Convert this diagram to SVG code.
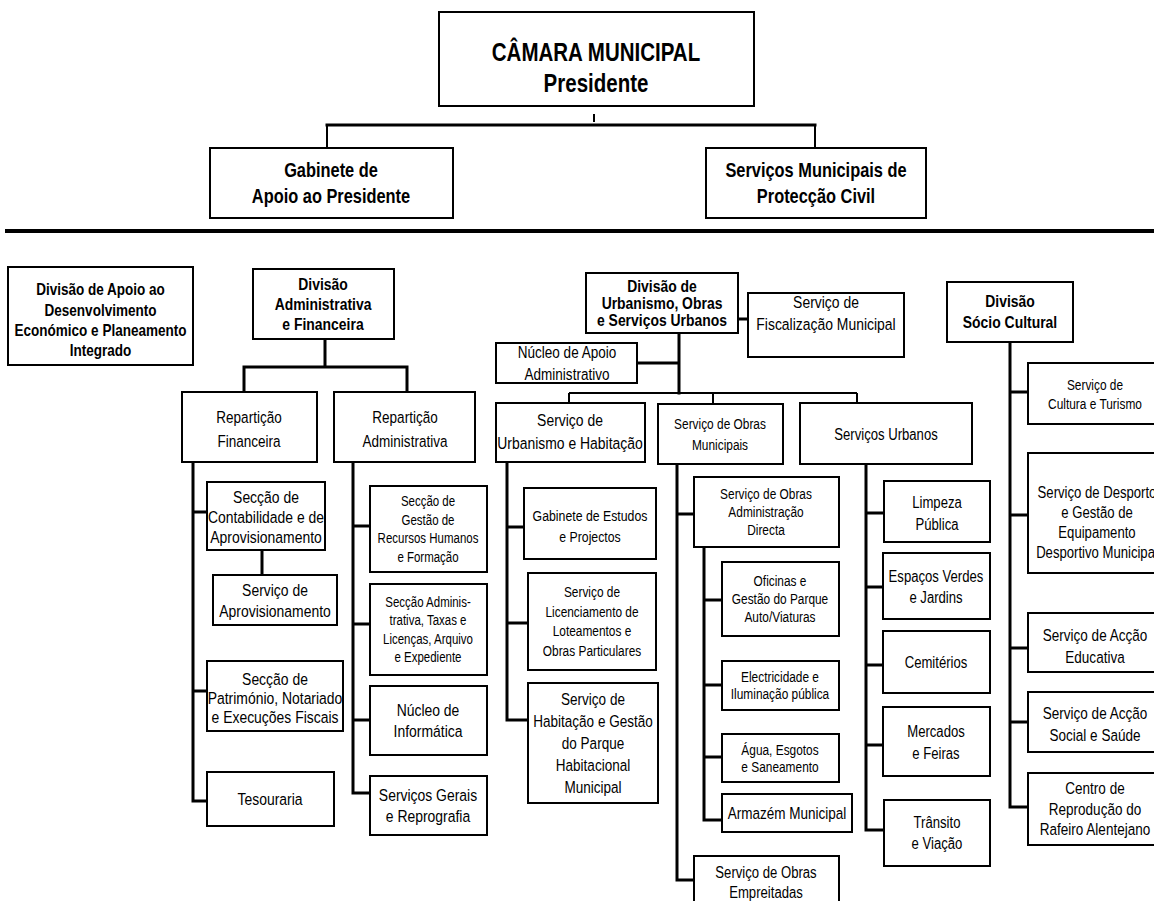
<svg xmlns="http://www.w3.org/2000/svg" width="1154" height="901" viewBox="0 0 1154 901">
<style>
.b{fill:#fff;stroke:#000;stroke-width:2}
.c{stroke:#000;stroke-width:3;fill:none;stroke-linecap:square}
.c2{stroke:#000;stroke-width:2;fill:none}
text{font-family:"Liberation Sans",Arial,sans-serif;text-anchor:middle;fill:#000}
.h{font-weight:bold}
.f14{font-size:14px}.f145{font-size:14.5px}.f15{font-size:15px}.f16{font-size:16px}.f165{font-size:16.5px}.f17{font-size:17px}.f20{font-size:20px}.f25{font-size:25px}
</style>
<rect width="1154" height="901" fill="#fff"/>
<g id="connectors">
<path class="c2" d="M594 114V122"/>
<path class="c" d="M327 125H815"/>
<path class="c2" d="M327 125V148M815 125V148"/>
<path d="M5 231H1154" stroke="#000" stroke-width="4"/>
<path class="c" d="M325 339V367M244 367H407M244 367V392M407 367V392"/>
<path class="c" d="M193 462V801H207M193 512H207M193 691H207"/>
<path class="c" d="M262 550V575"/>
<path class="c" d="M353 462V793H370M353 526H370M353 624H370M353 720H370"/>
<path class="c" d="M738 319H748M679 333V393M637 363H679"/>
<path class="c2" d="M569 393H857M569 393V403M713 393V404M857 393V403"/>
<path class="c" d="M507 462V720H528M507 527H524M507 623H528"/>
<path class="c" d="M677 464V880H694M677 514H694"/>
<path class="c" d="M704 547V820H722M704 600H722M704 685H722M704 757H722"/>
<path class="c" d="M866 464V830H884M866 513H884M866 587H883M866 665H883M866 745H883"/>
<path class="c" d="M1010 342V807H1028M1010 392H1028M1010 515H1028M1010 648H1028M1010 722H1028"/>
</g>
<g id="camara"><rect class="b" x="439" y="12" width="315" height="94"/><text class="h f25" transform="matrix(.82 0 0 1 596 0)"><tspan x="0" y="61">CÂMARA MUNICIPAL</tspan><tspan x="0" y="92">Presidente</tspan></text></g>
<g id="gabinete"><rect class="b" x="210" y="148" width="243" height="70"/><text class="h f20" transform="matrix(.82 0 0 1 331 0)"><tspan x="0" y="177">Gabinete de</tspan><tspan x="0" y="203">Apoio ao Presidente</tspan></text></g>
<g id="proteccao"><rect class="b" x="706" y="148" width="220" height="70"/><text class="h f20" transform="matrix(.82 0 0 1 816 0)"><tspan x="0" y="177">Serviços Municipais de</tspan><tspan x="0" y="203">Protecção Civil</tspan></text></g>
<g id="div-apoio"><rect class="b" x="8" y="267" width="185" height="98"/><text class="h f165" transform="matrix(.82 0 0 1 100.5 0)"><tspan x="0" y="295">Divisão de Apoio ao</tspan><tspan x="0" y="316">Desenvolvimento</tspan><tspan x="0" y="336">Económico e Planeamento</tspan><tspan x="0" y="356">Integrado</tspan></text></g>
<g id="div-admin"><rect class="b" x="253" y="269" width="141" height="70"/><text class="h f17" transform="matrix(.82 0 0 1 323 0)"><tspan x="0" y="290">Divisão</tspan><tspan x="0" y="310">Administrativa</tspan><tspan x="0" y="330">e Financeira</tspan></text></g>
<g id="rep-fin"><rect class="b" x="182" y="392" width="135" height="70"/><text class="f165" transform="matrix(.82 0 0 1 249 0)"><tspan x="0" y="423">Repartição</tspan><tspan x="0" y="447">Financeira</tspan></text></g>
<g id="rep-adm"><rect class="b" x="334" y="392" width="141" height="70"/><text class="f165" transform="matrix(.82 0 0 1 405 0)"><tspan x="0" y="423">Repartição</tspan><tspan x="0" y="447">Administrativa</tspan></text></g>
<g id="contab"><rect class="b" x="207" y="482" width="118" height="68"/><text class="f17" transform="matrix(.82 0 0 1 266 0)"><tspan x="0" y="503">Secção de</tspan><tspan x="0" y="523">Contabilidade e de</tspan><tspan x="0" y="543">Aprovisionamento</tspan></text></g>
<g id="aprov"><rect class="b" x="213" y="575" width="124" height="50"/><text class="f17" transform="matrix(.82 0 0 1 275 0)"><tspan x="0" y="596">Serviço de</tspan><tspan x="0" y="617">Aprovisionamento</tspan></text></g>
<g id="patrimonio"><rect class="b" x="207" y="661" width="136" height="70"/><text class="f17" transform="matrix(.82 0 0 1 275 0)"><tspan x="0" y="685">Secção de</tspan><tspan x="0" y="704">Património, Notariado</tspan><tspan x="0" y="723">e Execuções Fiscais</tspan></text></g>
<g id="tesouraria"><rect class="b" x="207" y="772" width="127" height="54"/><text class="f17" transform="matrix(.82 0 0 1 270 0)"><tspan x="0" y="805">Tesouraria</tspan></text></g>
<g id="gestao-rh"><rect class="b" x="370" y="486" width="117" height="86"/><text class="f14" transform="matrix(.82 0 0 1 428 0)"><tspan x="0" y="506">Secção de</tspan><tspan x="0" y="525">Gestão de</tspan><tspan x="0" y="543">Recursos Humanos</tspan><tspan x="0" y="562">e Formação</tspan></text></g>
<g id="seccao-adm"><rect class="b" x="370" y="584" width="117" height="91"/><text class="f14" transform="matrix(.82 0 0 1 428 0)"><tspan x="0" y="607">Secção Adminis-</tspan><tspan x="0" y="625">trativa, Taxas e</tspan><tspan x="0" y="644">Licenças, Arquivo</tspan><tspan x="0" y="662">e Expediente</tspan></text></g>
<g id="informatica"><rect class="b" x="370" y="686" width="117" height="69"/><text class="f17" transform="matrix(.82 0 0 1 428 0)"><tspan x="0" y="716">Núcleo de</tspan><tspan x="0" y="737">Informática</tspan></text></g>
<g id="gerais"><rect class="b" x="370" y="776" width="117" height="59"/><text class="f17" transform="matrix(.82 0 0 1 428 0)"><tspan x="0" y="801">Serviços Gerais</tspan><tspan x="0" y="822">e Reprografia</tspan></text></g>
<g id="div-urb"><rect class="b" x="586" y="273" width="152" height="60"/><text class="h f17" transform="matrix(.82 0 0 1 662 0)"><tspan x="0" y="292">Divisão de</tspan><tspan x="0" y="309">Urbanismo, Obras</tspan><tspan x="0" y="326">e Serviços Urbanos</tspan></text></g>
<g id="fiscal"><rect class="b" x="748" y="293" width="156" height="64"/><text class="f17" transform="matrix(.82 0 0 1 826 0)"><tspan x="0" y="308">Serviço de</tspan><tspan x="0" y="330">Fiscalização Municipal</tspan></text></g>
<g id="nucleo-apoio"><rect class="b" x="496" y="343" width="141" height="40"/><text class="f165" transform="matrix(.82 0 0 1 567 0)"><tspan x="0" y="358">Núcleo de Apoio</tspan><tspan x="0" y="380">Administrativo</tspan></text></g>
<g id="urb-hab"><rect class="b" x="496" y="403" width="149" height="59"/><text class="f17" transform="matrix(.82 0 0 1 570 0)"><tspan x="0" y="426">Serviço de</tspan><tspan x="0" y="449">Urbanismo e Habitação</tspan></text></g>
<g id="estudos"><rect class="b" x="524" y="488" width="132" height="71"/><text class="f15" transform="matrix(.82 0 0 1 590 0)"><tspan x="0" y="521">Gabinete de Estudos</tspan><tspan x="0" y="542">e Projectos</tspan></text></g>
<g id="licenc"><rect class="b" x="528" y="573" width="128" height="97"/><text class="f145" transform="matrix(.82 0 0 1 592 0)"><tspan x="0" y="597">Serviço de</tspan><tspan x="0" y="617">Licenciamento de</tspan><tspan x="0" y="636">Loteamentos e</tspan><tspan x="0" y="656">Obras Particulares</tspan></text></g>
<g id="habitacao"><rect class="b" x="528" y="683" width="130" height="120"/><text class="f165" transform="matrix(.82 0 0 1 593 0)"><tspan x="0" y="705">Serviço de</tspan><tspan x="0" y="727">Habitação e Gestão</tspan><tspan x="0" y="749">do Parque</tspan><tspan x="0" y="771">Habitacional</tspan><tspan x="0" y="793">Municipal</tspan></text></g>
<g id="obras-mun"><rect class="b" x="658" y="404" width="125" height="60"/><text class="f145" transform="matrix(.82 0 0 1 720 0)"><tspan x="0" y="429">Serviço de Obras</tspan><tspan x="0" y="450">Municipais</tspan></text></g>
<g id="adm-directa"><rect class="b" x="694" y="477" width="145" height="70"/><text class="f145" transform="matrix(.82 0 0 1 766 0)"><tspan x="0" y="499">Serviço de Obras</tspan><tspan x="0" y="517">Administração</tspan><tspan x="0" y="535">Directa</tspan></text></g>
<g id="oficinas"><rect class="b" x="722" y="562" width="117" height="74"/><text class="f145" transform="matrix(.82 0 0 1 780 0)"><tspan x="0" y="586">Oficinas e</tspan><tspan x="0" y="604">Gestão do Parque</tspan><tspan x="0" y="622">Auto/Viaturas</tspan></text></g>
<g id="electricidade"><rect class="b" x="722" y="661" width="117" height="49"/><text class="f145" transform="matrix(.82 0 0 1 780 0)"><tspan x="0" y="682">Electricidade e</tspan><tspan x="0" y="699">Iluminação pública</tspan></text></g>
<g id="agua"><rect class="b" x="722" y="734" width="117" height="48"/><text class="f145" transform="matrix(.82 0 0 1 780 0)"><tspan x="0" y="755">Água, Esgotos</tspan><tspan x="0" y="772">e Saneamento</tspan></text></g>
<g id="armazem"><rect class="b" x="722" y="794" width="130" height="38"/><text class="f165" transform="matrix(.82 0 0 1 787 0)"><tspan x="0" y="819">Armazém Municipal</tspan></text></g>
<g id="empreitadas"><rect class="b" x="694" y="856" width="145" height="50"/><text class="f16" transform="matrix(.82 0 0 1 766 0)"><tspan x="0" y="878">Serviço de Obras</tspan><tspan x="0" y="898">Empreitadas</tspan></text></g>
<g id="serv-urb"><rect class="b" x="800" y="403" width="172" height="61"/><text class="f16" transform="matrix(.82 0 0 1 886 0)"><tspan x="0" y="440">Serviços Urbanos</tspan></text></g>
<g id="limpeza"><rect class="b" x="884" y="481" width="106" height="61"/><text class="f16" transform="matrix(.82 0 0 1 937 0)"><tspan x="0" y="508">Limpeza</tspan><tspan x="0" y="530">Pública</tspan></text></g>
<g id="espacos"><rect class="b" x="883" y="553" width="107" height="66"/><text class="f16" transform="matrix(.82 0 0 1 936 0)"><tspan x="0" y="582">Espaços Verdes</tspan><tspan x="0" y="603">e Jardins</tspan></text></g>
<g id="cemiterios"><rect class="b" x="883" y="631" width="107" height="62"/><text class="f16" transform="matrix(.82 0 0 1 936 0)"><tspan x="0" y="668">Cemitérios</tspan></text></g>
<g id="mercados"><rect class="b" x="883" y="707" width="107" height="69"/><text class="f16" transform="matrix(.82 0 0 1 936 0)"><tspan x="0" y="737">Mercados</tspan><tspan x="0" y="759">e Feiras</tspan></text></g>
<g id="transito"><rect class="b" x="884" y="800" width="106" height="66"/><text class="f16" transform="matrix(.82 0 0 1 937 0)"><tspan x="0" y="828">Trânsito</tspan><tspan x="0" y="849">e Viação</tspan></text></g>
<g id="div-socio"><rect class="b" x="947" y="282" width="126" height="60"/><text class="h f17" transform="matrix(.82 0 0 1 1010 0)"><tspan x="0" y="307">Divisão</tspan><tspan x="0" y="328">Sócio Cultural</tspan></text></g>
<g id="cultura"><rect class="b" x="1028" y="363" width="132" height="61"/><text class="f145" transform="matrix(.82 0 0 1 1095 0)"><tspan x="0" y="390">Serviço de</tspan><tspan x="0" y="409">Cultura e Turismo</tspan></text></g>
<g id="desporto"><rect class="b" x="1028" y="453" width="140" height="120"/><text class="f16" transform="matrix(.82 0 0 1 1097 0)"><tspan x="0" y="498">Serviço de Desporto</tspan><tspan x="0" y="518">e Gestão de</tspan><tspan x="0" y="538">Equipamento</tspan><tspan x="0" y="558">Desportivo Municipal</tspan></text></g>
<g id="educativa"><rect class="b" x="1028" y="613" width="132" height="59"/><text class="f165" transform="matrix(.82 0 0 1 1095 0)"><tspan x="0" y="641">Serviço de Acção</tspan><tspan x="0" y="663">Educativa</tspan></text></g>
<g id="social"><rect class="b" x="1028" y="692" width="132" height="60"/><text class="f165" transform="matrix(.82 0 0 1 1095 0)"><tspan x="0" y="719">Serviço de Acção</tspan><tspan x="0" y="741">Social e Saúde</tspan></text></g>
<g id="rafeiro"><rect class="b" x="1028" y="773" width="132" height="72"/><text class="f165" transform="matrix(.82 0 0 1 1095 0)"><tspan x="0" y="794">Centro de</tspan><tspan x="0" y="815">Reprodução do</tspan><tspan x="0" y="835">Rafeiro Alentejano</tspan></text></g>
</svg>
